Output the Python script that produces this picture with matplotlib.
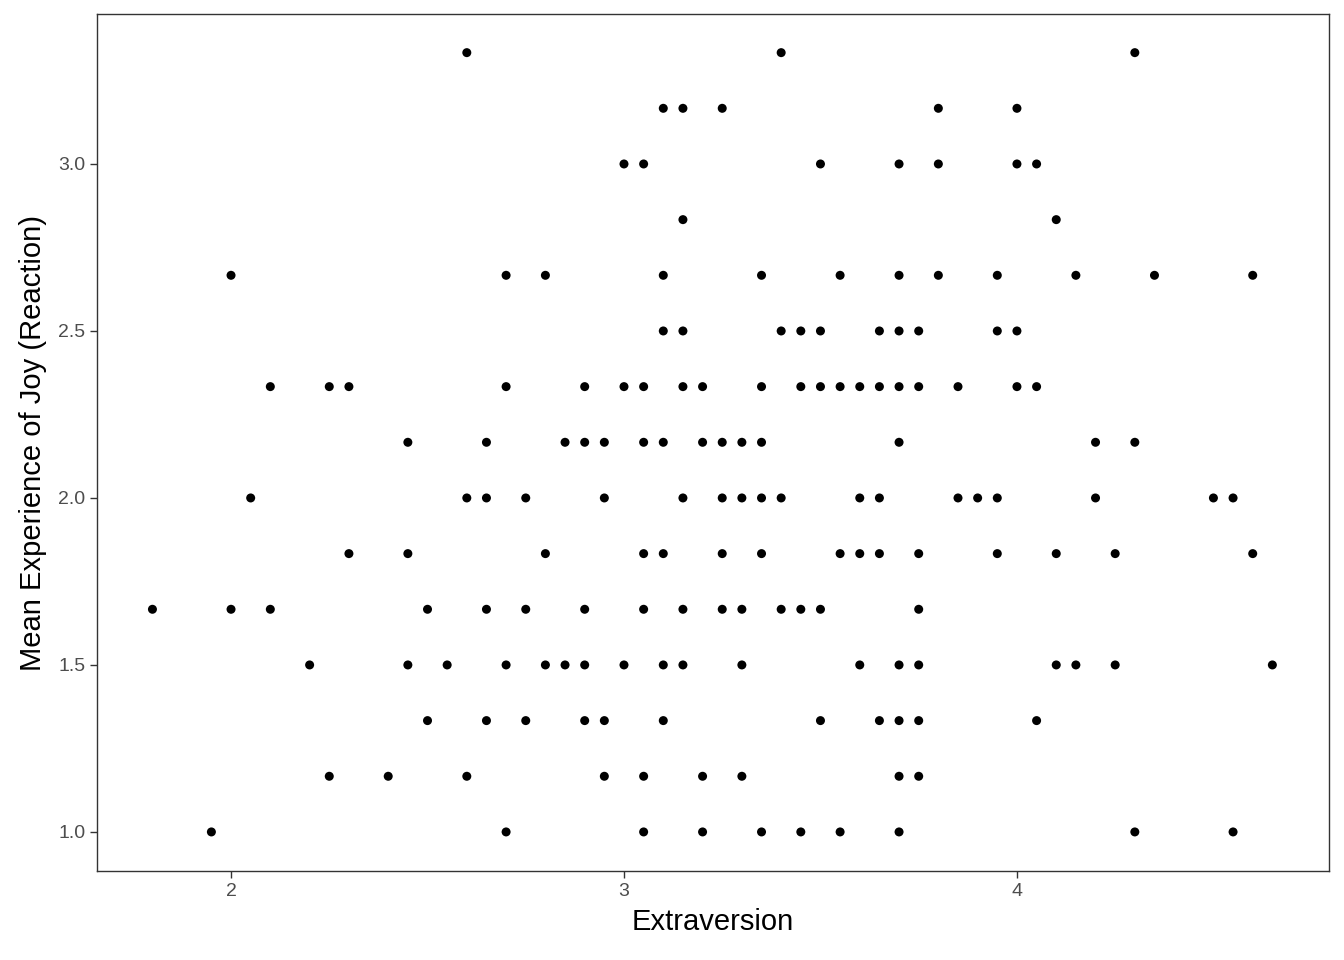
import numpy as np
import matplotlib
matplotlib.use('Agg')
import matplotlib.pyplot as plt

plt.rcParams['font.family'] = ['Liberation Sans', 'DejaVu Sans']

# joy levels (sixths) and the extraversion scores observed at each level
joy_levels = [1.0, 7/6, 4/3, 1.5, 5/3, 11/6, 2.0, 13/6, 7/3, 2.5, 8/3, 17/6, 3.0, 19/6, 10/3]
extra_by_level = [
    [1.95, 2.70, 3.05, 3.20, 3.35, 3.45, 3.55, 3.70, 4.30, 4.55],
    [2.25, 2.40, 2.60, 2.95, 3.05, 3.20, 3.30, 3.70, 3.75],
    [2.50, 2.65, 2.75, 2.90, 2.95, 3.10, 3.50, 3.65, 3.70, 3.75, 4.05],
    [2.20, 2.45, 2.55, 2.70, 2.80, 2.85, 2.90, 3.00, 3.10, 3.15, 3.30, 3.60,
     3.70, 3.75, 4.10, 4.15, 4.25, 4.65],
    [1.80, 2.00, 2.10, 2.50, 2.65, 2.75, 2.90, 3.05, 3.15, 3.25, 3.30, 3.40,
     3.45, 3.50, 3.75],
    [2.30, 2.45, 2.80, 3.05, 3.10, 3.25, 3.35, 3.55, 3.60, 3.65, 3.75, 3.95,
     4.10, 4.25, 4.60],
    [2.05, 2.60, 2.65, 2.75, 2.95, 3.15, 3.25, 3.30, 3.35, 3.40, 3.60, 3.65,
     3.85, 3.90, 3.95, 4.20, 4.50, 4.55],
    [2.45, 2.65, 2.85, 2.90, 2.95, 3.05, 3.10, 3.20, 3.25, 3.30, 3.35, 3.70,
     4.20, 4.30],
    [2.10, 2.25, 2.30, 2.70, 2.90, 3.00, 3.05, 3.15, 3.20, 3.35, 3.45, 3.50,
     3.55, 3.60, 3.65, 3.70, 3.75, 3.85, 4.00, 4.05],
    [3.10, 3.15, 3.40, 3.45, 3.50, 3.65, 3.70, 3.75, 3.95, 4.00],
    [2.00, 2.70, 2.80, 3.10, 3.35, 3.55, 3.70, 3.80, 3.95, 4.15, 4.35, 4.60],
    [3.15, 4.10],
    [3.00, 3.05, 3.50, 3.70, 3.80, 4.00, 4.05],
    [3.10, 3.15, 3.25, 3.80, 4.00],
    [2.60, 3.40, 4.30],
]

x = np.concatenate([np.array(v) for v in extra_by_level])
y = np.concatenate([np.full(len(v), lv) for v, lv in zip(extra_by_level, joy_levels)])

fig = plt.figure(figsize=(13.44, 9.6), dpi=100)
ax = fig.add_axes([0.0722, 0.0927, 0.9166, 0.8927])
ax.scatter(x, y, s=42, color='black', edgecolors='none')

ax.set_xlim(1.659, 4.794)
ax.set_ylim(0.883, 3.449)
ax.set_xticks([2, 3, 4])
ax.set_xticklabels(['2', '3', '4'])
ax.set_yticks([1.0, 1.5, 2.0, 2.5, 3.0])
ax.set_yticklabels(['1.0', '1.5', '2.0', '2.5', '3.0'])
ax.tick_params(labelsize=14, colors='#333333', length=5, width=1, labelcolor='#4d4d4d')
for s in ax.spines.values():
    s.set_color('#333333')
    s.set_linewidth(1)
ax.set_xlabel('Extraversion', fontsize=21, labelpad=6)
ax.set_ylabel('Mean Experience of Joy (Reaction)', fontsize=21, labelpad=8)

fig.savefig('out.png')
